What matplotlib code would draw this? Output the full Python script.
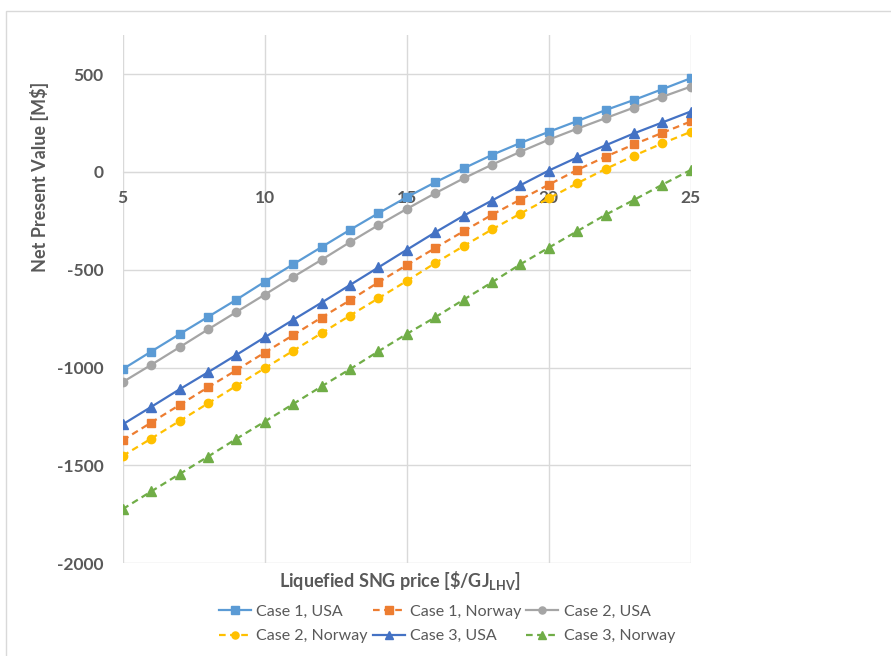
import matplotlib
matplotlib.use('Agg')
import matplotlib.pyplot as plt
from matplotlib.patches import Rectangle

plt.rcParams['font.family'] = ['Lato', 'DejaVu Sans']
plt.rcParams['mathtext.fontset'] = 'custom'
plt.rcParams['mathtext.bf'] = 'Lato:bold'
plt.rcParams['axes.unicode_minus'] = False

# 数据
price = list(range(5, 26))
case1_usa = [-1008, -918, -829, -741, -653, -561, -472, -384, -296, -211, -129,
             -53, 18, 87, 148, 205, 260, 316, 368, 423, 479]
case1_nor = [-1371, -1281, -1191, -1101, -1013, -923, -834, -744, -656, -564, -476,
             -389, -303, -219, -141, -65, 10, 78, 141, 200, 258]
case2_usa = [-1074, -986, -896, -805, -716, -627, -537, -449, -359, -272, -189,
             -109, -33, 37, 103, 165, 221, 275, 329, 384, 436]
case2_nor = [-1451, -1363, -1273, -1183, -1093, -1003, -914, -824, -734, -646, -557,
             -466, -379, -294, -213, -135, -58, 15, 83, 146, 205]
case3_usa = [-1290, -1201, -1111, -1024, -935, -845, -756, -668, -578, -488, -398,
             -309, -224, -146, -68, 7, 74, 136, 197, 253, 309]
case3_nor = [-1723, -1633, -1544, -1455, -1364, -1276, -1186, -1096, -1008, -917, -828,
             -743, -653, -564, -472, -387, -303, -219, -143, -65, 10]

xticks = [5, 10, 15, 20, 25]
yticks = [500, 0, -500, -1000, -1500, -2000]

grey_txt = '#595959'
grid_c = '#D9D9D9'

fig = plt.figure(figsize=(8.91, 6.56), dpi=100)
# 图表外框
fig.patches.append(Rectangle((6 / 891, -0.1), 1.1, 1 - 11 / 656 + 0.1, transform=fig.transFigure,
                             fill=False, edgecolor=grid_c, linewidth=1.0))
ax = fig.add_axes([122.7 / 891, 1 - 563.3 / 656, 568 / 891, 528.3 / 656])

series = [
    ('Case 1, USA', case1_usa, '#5B9BD5', '-', 's', 6),
    ('Case 1, Norway', case1_nor, '#ED7D31', '--', 's', 6),
    ('Case 2, USA', case2_usa, '#A5A5A5', '-', 'o', 6),
    ('Case 2, Norway', case2_nor, '#FFC000', '--', 'o', 6),
    ('Case 3, USA', case3_usa, '#4472C4', '-', '^', 6.5),
    ('Case 3, Norway', case3_nor, '#70AD47', '--', '^', 6.5),
]
handles = []
for name, vals, col, ls, mk, ms in series:
    h, = ax.plot(price, vals, color=col, linestyle=ls, marker=mk, markersize=ms,
                 linewidth=1.6, label=name, zorder=3)
    if ls == '--':
        h.set_dashes((3, 2))
    handles.append(h)

ax.set_xlim(5, 25)
ax.set_ylim(-2000, 700)
ax.set_xticks(xticks)
ax.set_xticklabels([str(v) for v in xticks])
ax.set_yticks(yticks)
ax.set_yticklabels([str(v) for v in yticks])
ax.grid(True, color=grid_c, linewidth=1.0, zorder=0)
ax.set_axisbelow(True)
for s in ['top', 'right', 'left']:
    ax.spines[s].set_visible(False)
ax.spines['bottom'].set_position(('data', 0))
ax.spines['bottom'].set_color(grid_c)
ax.tick_params(axis='both', length=0, labelsize=12.5, labelcolor=grey_txt)
ax.tick_params(axis='x', pad=13)
ax.tick_params(axis='y', pad=14)
for lab in ax.get_xticklabels() + ax.get_yticklabels():
    lab.set_fontweight('bold')

fig.text(40 / 891, 1 - 177 / 656, 'Net Present Value [M$]', rotation=90, ha='center', va='center',
         fontsize=13, fontweight='bold', color=grey_txt)
fig.text(400 / 891, 1 - 580 / 656, r'Liquefied SNG price [\$/GJ$_{\mathbf{LHV}}$]', ha='center',
         va='center', fontsize=13, fontweight='bold', color=grey_txt)

order = [0, 3, 1, 4, 2, 5]
leg = fig.legend([handles[i] for i in order], [series[i][0] for i in order], ncol=3,
                 loc='center', bbox_to_anchor=(447 / 891, 1 - 624 / 656), frameon=False,
                 fontsize=11.5, handlelength=2.0, handletextpad=0.35, columnspacing=0.3,
                 labelspacing=0.65, borderpad=0, markerscale=0.85)
for t in leg.get_texts():
    t.set_color(grey_txt)

fig.savefig('out.png', dpi=100)
